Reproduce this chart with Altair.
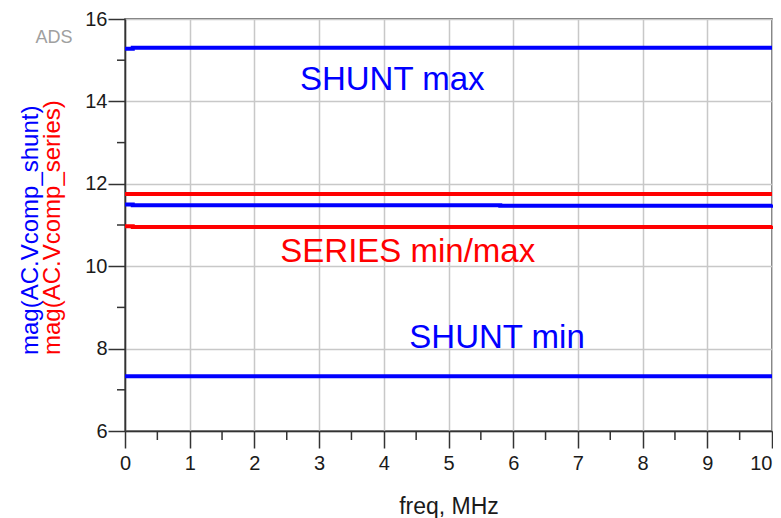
import altair as alt
import pandas as pd

# ---- data ----
shunt_max_f = [0, 0.12, 10]
shunt_max_v = [15.28, 15.30, 15.30]
shunt_mid_f = [0, 0.12, 5.8, 9.92, 10]
shunt_mid_v = [11.50, 11.48, 11.47, 11.47, 11.50]
shunt_min_f = [0, 10]
shunt_min_v = [7.33, 7.33]
series_max_f = [0, 10]
series_max_v = [11.75, 11.75]
series_min_f = [0, 0.12, 9.92, 10]
series_min_v = [10.97, 10.95, 10.95, 10.98]

ann_text = ["SHUNT max", "SERIES min/max", "SHUNT min"]
ann_x = [4.13, 4.37, 5.75]
ann_y = [14.28, 10.10, 8.02]
ann_color = ["#0000ff", "#ff0000", "#0000ff"]

x_major = list(range(0, 11))
x_minor = [i + 0.5 for i in range(0, 10)]
y_major = [6, 8, 10, 12, 14, 16]
y_minor = [7, 9, 11, 13, 15]

BLUE = "#0000ff"
RED = "#ff0000"
W, H = 647, 412

rows = []
for name, fs, vs, col in [
    ("shunt_max", shunt_max_f, shunt_max_v, BLUE),
    ("shunt_mid", shunt_mid_f, shunt_mid_v, BLUE),
    ("shunt_min", shunt_min_f, shunt_min_v, BLUE),
    ("series_max", series_max_f, series_max_v, RED),
    ("series_min", series_min_f, series_min_v, RED),
]:
    for f, v in zip(fs, vs):
        rows.append({"freq": f, "value": v, "trace": name, "col": col})
df = pd.DataFrame(rows)

ann_df = pd.DataFrame({"text": ann_text, "freq": ann_x, "value": ann_y, "col": ann_color})

FONT = "Liberation Sans"
TXT = "#1a1a1a"
TICK = "#333333"

x_scale = alt.Scale(domain=[0, 10], nice=False, zero=False)
y_scale = alt.Scale(domain=[6, 16], nice=False, zero=False)

x_axis = alt.Axis(
    values=x_major,
    format="d",
    tickSize=17,
    grid=True,
    gridColor="#c8c8c8",
    gridWidth=1.5,
    tickColor=TICK,
    tickWidth=1.5,
    domainColor=TICK,
    domainWidth=1.5,
    labelFont=FONT,
    labelFontSize=20,
    labelColor=TXT,
    labelPadding=5,
    labelFlush=False,
    labelOverlap=False,
    labelAlign={"condition": {"test": "datum.value === 10", "value": "right"}, "value": "center"},
    title="freq, MHz",
    titleFont=FONT,
    titleFontSize=23,
    titleFontWeight="normal",
    titleColor=TXT,
    titleY=82,
    titleBaseline="alphabetic",
)

y_axis = alt.Axis(
    values=y_major,
    format="d",
    tickSize=17,
    grid=True,
    gridColor="#c8c8c8",
    gridWidth=1.5,
    tickColor=TICK,
    tickWidth=1.5,
    domainColor=TICK,
    domainWidth=1.5,
    labelFont=FONT,
    labelFontSize=20,
    labelColor=TXT,
    labelPadding=1,
    labelFlush=False,
    labelOverlap=False,
    title="",
)

lines = alt.Chart(df).mark_line(strokeWidth=4, interpolate="step-after", strokeCap="butt").encode(
    x=alt.X("freq:Q", scale=x_scale, axis=x_axis),
    y=alt.Y("value:Q", scale=y_scale, axis=y_axis),
    detail="trace:N",
    color=alt.Color("col:N", scale=None),
)

x_minor_ticks = alt.Chart(pd.DataFrame({"freq": x_minor})).mark_rule(
    color=TICK, strokeWidth=1.5
).encode(
    x=alt.X("freq:Q", scale=x_scale, axis=x_axis),
    y=alt.value(H),
    y2=alt.value(H + 9),
)

y_minor_ticks = alt.Chart(pd.DataFrame({"value": y_minor})).mark_rule(
    color=TICK, strokeWidth=1.5
).encode(
    y=alt.Y("value:Q", scale=y_scale, axis=y_axis),
    x=alt.value(-8),
    x2=alt.value(0),
)

ann = alt.Chart(ann_df).mark_text(
    font=FONT, fontSize=33, align="center", baseline="alphabetic"
).encode(
    x=alt.X("freq:Q", scale=x_scale, axis=x_axis),
    y=alt.Y("value:Q", scale=y_scale, axis=y_axis),
    text="text:N",
    color=alt.Color("col:N", scale=None),
)

title_blue = alt.Chart(pd.DataFrame({"t": ["mag(AC.Vcomp_shunt)"]})).mark_text(
    font=FONT, fontSize=24, angle=270, align="left", baseline="middle", color=BLUE
).encode(x=alt.value(-94), y=alt.value(336), text="t:N")

title_red = alt.Chart(pd.DataFrame({"t": ["mag(AC.Vcomp_series)"]})).mark_text(
    font=FONT, fontSize=24, angle=270, align="left", baseline="middle", color=RED
).encode(x=alt.value(-72), y=alt.value(336), text="t:N")

ads = alt.Chart(pd.DataFrame({"t": ["ADS"]})).mark_text(
    font=FONT, fontSize=18, align="center", baseline="alphabetic", color="#a0a0a0"
).encode(x=alt.value(-71), y=alt.value(24), text="t:N")

chart = alt.layer(lines, x_minor_ticks, y_minor_ticks, ann, title_blue, title_red, ads).properties(
    width=W,
    height=H,
    autosize=alt.AutoSizeParams(type="none"),
    padding={"left": 117, "top": 11, "right": 1, "bottom": 87},
    background="white",
).configure_view(stroke="#444444", strokeWidth=1.5)

chart.save("out.html", embed_options={"renderer": "svg", "actions": False})
